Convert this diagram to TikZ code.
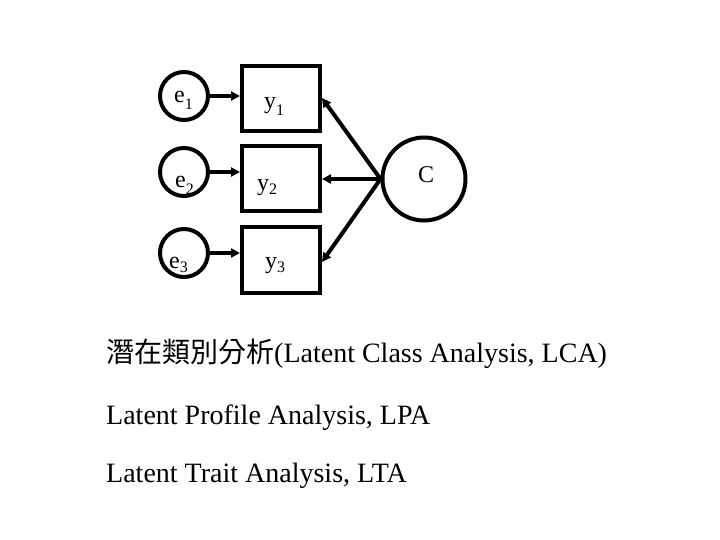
\documentclass[tikz,border=0pt]{standalone}
\usepackage{fontspec}
\setmainfont{Liberation Serif}
\newfontfamily\cjk{Noto Sans CJK TC}
\usetikzlibrary{arrows.meta}
\newcommand{\lowsub}[2]{\raisebox{-#1pt}{\fontsize{16}{16}\selectfont #2}}
\begin{document}
\begin{tikzpicture}[x=1pt,y=-1pt,
  errc/.style={circle,draw,line width=4pt,minimum size=48pt,inner sep=0pt},
  obsbox/.style={rectangle,draw,line width=4pt,minimum width=78pt,minimum height=65pt,inner sep=0pt},
  latc/.style={circle,draw,line width=4pt,minimum size=83pt,inner sep=0pt},
  lab/.style={anchor=base west,inner sep=0pt,font=\fontsize{24}{24}\selectfont},
  arr/.style={line width=4pt,-{Triangle[length=9pt,width=9pt]}},
  txt/.style={anchor=base west,inner sep=0pt,font=\fontsize{28}{28}\selectfont}]
\useasboundingbox (0,0) rectangle (720,540);
\node[errc] (e1) at (184,96) {};
\node[errc] (e2) at (184,172) {};
\node[errc] (e3) at (184,253) {};
\node[obsbox] (y1) at (281,99) {};
\node[obsbox] (y2) at (281,178.5) {};
\node[obsbox] (y3) at (281,260) {};
\node[latc] (C) at (424,179) {};
\node[lab] (le1) at (174,103) {e\lowsub{7}{1}};
\node[lab] (le2) at (175,188) {e\lowsub{7}{2}};
\node[lab] (le3) at (169,268) {e\lowsub{5}{3}};
\node[lab] (ly1) at (264,109) {y\lowsub{7}{1}};
\node[lab] (ly2) at (257,191) {y\lowsub{4}{2}};
\node[lab] (ly3) at (265,268) {y\lowsub{5}{3}};
\node[lab] (lC) at (418,183) {C};
\coordinate (cl) at (C.west);
\coordinate (t1) at (322,98);
\coordinate (t3) at (322,262);
\draw[arr] (e1) -- (y1.west |- e1);
\draw[arr] (e2) -- (y2.west |- e2);
\draw[arr] (e3) -- (y3.west |- e3);
\draw[arr] (cl) -- (y1.east |- t1);
\draw[arr] (cl) -- (y2.east |- cl);
\draw[arr] (cl) -- (y3.east |- t3);
\node[txt] (l1) at (106,362) {{\cjk\fontsize{28}{28}\selectfont 潛在類別分析}(Latent Class Analysis, LCA)};
\node[txt] (l2) at (106,424) {Latent Profile Analysis, LPA};
\node[txt] (l3) at (106,482) {Latent Trait Analysis, LTA};
\end{tikzpicture}
\end{document}
